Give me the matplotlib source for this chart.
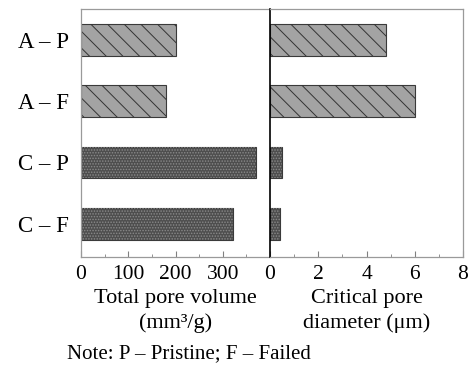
import numpy as np
import matplotlib
matplotlib.use('Agg')
import matplotlib.pyplot as plt

plt.rcParams['font.family'] = ['Liberation Serif', 'DejaVu Serif']
plt.rcParams['hatch.linewidth'] = 0.7

# data
labels = ['A – P', 'A – F', 'C – P', 'C – F']
pore_volume = [201, 180, 370, 321]      # mm3/g
pore_diameter = [4.8, 6.0, 0.5, 0.42]   # um
kind = ['A', 'A', 'C', 'C']

face = {'A': '#a3a3a3', 'C': '#4e4e4e'}
hatch = {'A': '\\\\', 'C': '......'}
hatch_col = {'A': '#333333', 'C': '#8a8a8a'}

fig = plt.figure(figsize=(4.71, 3.75), dpi=100)
ax1 = fig.add_axes([81/471, 1-257/375, 189/471, 248/375])
ax2 = fig.add_axes([270/471, 1-257/375, 193/471, 248/375])

y = np.arange(len(labels))
h = 0.52

def draw(ax, vals):
    for i, v in enumerate(vals):
        k = kind[i]
        ax.barh(y[i], v, height=h, color=face[k], edgecolor='#3a3a3a', linewidth=0.8)
        ax.barh(y[i], v, height=h, color='none', edgecolor=hatch_col[k],
                hatch=hatch[k], linewidth=0)
    ax.set_ylim(3.54, -0.5)
    for s in ['top', 'left', 'right', 'bottom']:
        ax.spines[s].set_color('#9a9a9a')
        ax.spines[s].set_linewidth(0.9)
    ax.tick_params(axis='x', direction='in', length=4, width=0.8, color='#808080',
                   labelsize=15.5, pad=6)
    ax.tick_params(axis='x', which='minor', direction='in', length=2, width=0.6, color='#808080')
    ax.tick_params(axis='y', length=0)

draw(ax1, pore_volume)
ax1.set_xlim(0, 400)
ax1.set_xticks([0, 100, 200, 300, 400])
ax1.set_xticklabels(['0', '100', '200', '300', ''])
ax1.set_xticks(np.arange(50, 400, 100), minor=True)
ax1.set_yticks(y)
ax1.set_yticklabels(labels, fontsize=16.5)
ax1.tick_params(axis='y', pad=9)
ax1.spines['right'].set_visible(False)
ax1.set_xlabel('Total pore volume\n(mm³/g)', fontsize=16, linespacing=1.4, labelpad=3)

draw(ax2, pore_diameter)
ax2.set_xlim(0, 8)
ax2.set_xticks([0, 2, 4, 6, 8])
ax2.set_xticks([1, 3, 5, 7], minor=True)
ax2.set_yticks([])
ax2.spines['left'].set_color('black')
ax2.spines['left'].set_linewidth(1.2)
ax2.set_xlabel('Critical pore\ndiameter (μm)', fontsize=16, linespacing=1.4, labelpad=3)

fig.text(67/471, 1-354/375, 'Note: P – Pristine; F – Failed', fontsize=15, va='center')

fig.savefig('out.png', dpi=100)
